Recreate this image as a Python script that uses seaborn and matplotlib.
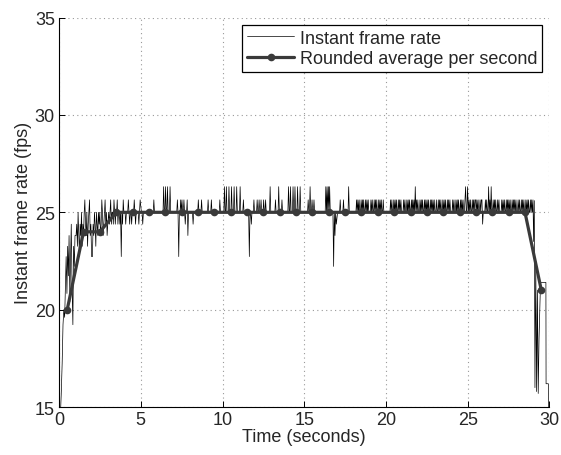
import numpy as np
import pandas as pd
import seaborn as sns
import matplotlib
matplotlib.use("Agg")
import matplotlib.pyplot as plt

# frame intervals (ms), one string per second of capture
frame_ms = [
    "70 64 58 52 50 51 47 44 48 43 46 42 49 44 41 47 52 43 45 42",
    "42 41 43 40 42 44 41 42 40 43 41 42 40 39 41 42 40 43 41 40 39 42 41 44",
    "44 41 42 40 41 43 40 41 42 40 41 40 42 41 39 40 42 41 40 39 41 40 42 41",
    "40 41 40 39 41 40 40 41 39 40 41 40 40 39 41 40 40 41 40 44 40 41 39 40",
    "40 41 40 40 40 39 40 41 40 40 41 40 40 40 39 40 41 40 40 40 40 41 40 39",
    "40 40 41 40 40 40 40 40 40 40 40 40 40 40 40 40 40 40 40 39 40 40 40 40 40",
    "40 40 40 40 40 40 40 40 40 38 40 40 38 40 40 38 40 40 40 38 40 40 40 40 40",
    "40 40 40 40 40 39 40 44 40 40 39 40 39 40 40 39 40 41 40 40 39 42 40 40",
    "40 40 40 40 41 40 40 40 40 40 40 40 39 40 40 40 40 39 40 40 40 40 40 40 40",
    "40 40 39 40 40 40 40 39 40 40 40 40 40 40 40 40 40 40 40 40 39 40 40 40 40",
    "40 40 38 40 40 38 40 40 40 38 40 40 40 38 40 40 40 38 40 40 40 38 40 40 40",
    "40 38 40 40 40 40 39 40 40 40 40 40 40 40 40 44 40 40 41 40 40 40 39 40",
    "40 40 39 40 40 39 40 40 39 40 40 40 39 40 40 39 40 40 40 40 40 40 38 40 40",
    "40 40 40 40 40 39 40 40 40 40 38 40 40 40 40 39 40 40 40 40 40 40 40 40 40",
    "38 40 40 38 40 40 40 38 40 40 38 40 40 40 38 40 40 40 38 40 40 40 40 40 40",
    "40 40 40 40 40 39 40 40 38 40 40 39 40 40 39 40 40 40 40 40 40 40 40 40 40",
    "40 40 40 40 40 40 40 38 40 38 40 38 40 38 40 40 40 40 40 45 40 42 40 41",
    "40 40 40 40 39 40 40 40 40 39 40 40 40 40 40 40 40 38 40 40 40 40 40 40 40",
    "40 40 40 40 39 40 39 40 39 40 40 39 40 39 40 39 40 40 39 40 39 40 39 40 40",
    "40 39 40 39 40 40 39 40 39 40 39 40 40 39 40 39 40 39 40 40 39 40 40 40 40",
    "40 40 40 40 40 40 39 40 39 40 40 39 40 39 40 39 40 40 39 40 39 40 39 40 40",
    "40 39 40 39 40 40 39 40 39 40 39 40 40 39 40 39 40 39 40 38 40 39 40 39 40",
    "40 39 40 39 40 39 40 40 39 40 39 40 39 40 39 40 40 39 40 39 40 39 40 39 40",
    "40 39 40 40 39 40 39 40 39 40 40 39 40 39 40 39 40 40 39 40 39 40 39 40 40",
    "40 39 40 39 40 40 39 40 39 40 39 40 40 39 40 39 40 39 40 40 39 38 40 40 38",
    "40 39 40 39 40 40 39 40 39 40 39 39 40 39 40 39 40 40 39 40 39 39 41 40 40",
    "40 39 40 39 40 40 38 40 39 40 38 40 40 39 40 39 40 39 40 40 39 40 39 40 40",
    "40 39 40 39 40 39 40 40 39 40 39 40 39 40 39 40 40 39 40 39 40 39 40 39 40",
    "40 39 40 39 40 40 39 40 39 40 39 40 40 39 40 39 40 39 40 40 39 40 39 40 39",
]

# last second, where the stream breaks down
tail_time = [29.03, 29.07, 29.11, 29.16, 29.21, 29.26, 29.31, 29.36, 29.45, 29.78, 29.79, 29.93, 29.94]
tail_fps = [23.5, 25.6, 16.0, 22.5, 15.8, 21.0, 15.7, 18.5, 21.4, 21.4, 16.2, 16.2, 14.0]

avg_time = [0.5, 1.5, 2.5, 3.5, 4.5, 5.5, 6.5, 7.5, 8.5, 9.5, 10.5, 11.5, 12.5, 13.5, 14.5,
            15.5, 16.5, 17.5, 18.5, 19.5, 20.5, 21.5, 22.5, 23.5, 24.5, 25.5, 26.5, 27.5, 28.5, 29.5]
avg_fps = [20, 24, 24, 25, 25, 25, 25, 25, 25, 25, 25, 25, 25, 25, 25,
           25, 25, 25, 25, 25, 25, 25, 25, 25, 25, 25, 25, 25, 25, 21]

rows = []
for sec, line in enumerate(frame_ms):
    ms = np.array(line.split(), dtype=float)
    t = sec + np.cumsum(ms) / 1000.0
    rows.append(pd.DataFrame({"time": t, "fps": 1000.0 / ms}))
rows.append(pd.DataFrame({"time": tail_time, "fps": tail_fps}))
inst = pd.concat(rows, ignore_index=True)
avg = pd.DataFrame({"time": avg_time, "fps": avg_fps})

sns.set_theme(style="white", rc={"xtick.direction": "in", "ytick.direction": "in",
                                 "xtick.bottom": True, "ytick.left": True})
plt.rcParams["font.family"] = ["Liberation Sans", "DejaVu Sans"]

fig = plt.figure(figsize=(5.61, 4.56), dpi=100)
ax = fig.add_axes([0.1052, 0.105, 0.8743, 0.8544])

sns.lineplot(data=inst, x="time", y="fps", color="black", linewidth=0.5,
             estimator=None, sort=False, label="Instant frame rate", ax=ax)
sns.lineplot(data=avg, x="time", y="fps", color="#3a3a3a", linewidth=2.3,
             marker="o", markersize=5.5, markeredgewidth=0, estimator=None,
             label="Rounded average per second", ax=ax)

ax.set_xlim(0, 30)
ax.set_ylim(15, 35)
ax.set_xticks(range(0, 31, 5))
ax.set_yticks(range(15, 36, 5))
ax.grid(True, linestyle=(0, (1, 3)), color="#999999", linewidth=0.8)
for side in ["top", "right"]:
    ax.spines[side].set_visible(False)
for side in ["left", "bottom"]:
    ax.spines[side].set_color("black")
    ax.spines[side].set_linewidth(0.8)
ax.tick_params(axis="both", length=4, width=0.7, color="black", labelsize=13, pad=3)
ax.set_xlabel("Time (seconds)", fontsize=13, labelpad=0)
ax.set_ylabel("Instant frame rate (fps)", fontsize=13, labelpad=2)

leg = ax.legend(loc="upper right", bbox_to_anchor=(1, 1), borderaxespad=0.4,
                fontsize=13, frameon=True, fancybox=False, framealpha=1,
                edgecolor="black", handlelength=2.6, handletextpad=0.3,
                borderpad=0.28, labelspacing=0.18)
leg.get_frame().set_linewidth(0.9)

plt.savefig("out.png", dpi=100)
